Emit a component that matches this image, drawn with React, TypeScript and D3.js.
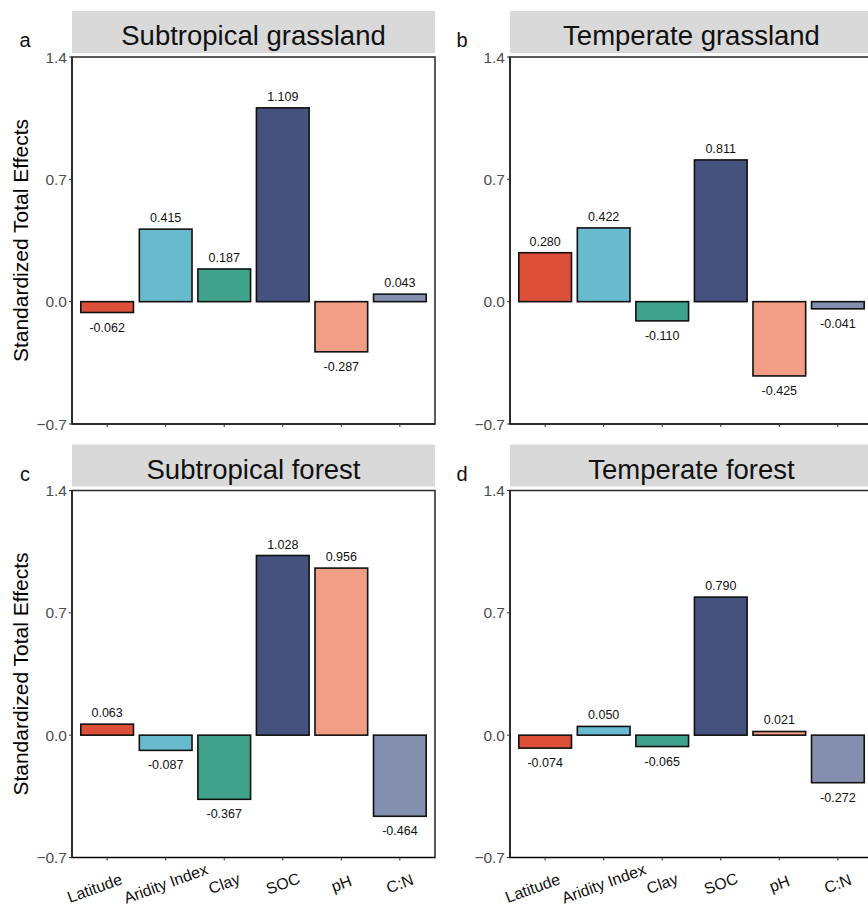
import React from "react";
import * as d3 from "d3";

const categories = ["Latitude", "Aridity Index", "Clay", "SOC", "pH", "C:N"];
// display labels (Latitude carries trailing spaces as in the original)
const categoryLabels = ["Latitude\u00A0\u00A0\u00A0\u00A0\u00A0\u00A0", "Aridity Index", "Clay", "SOC", "pH", "C:N"];
const panelTitles = ["Subtropical grassland", "Temperate grassland", "Subtropical forest", "Temperate forest"];
const panelLetters = ["a", "b", "c", "d"];
const subtropicalGrassland = [-0.062, 0.415, 0.187, 1.109, -0.287, 0.043];
const temperateGrassland = [0.28, 0.422, -0.11, 0.811, -0.425, -0.041];
const subtropicalForest = [0.063, -0.087, -0.367, 1.028, 0.956, -0.464];
const temperateForest = [-0.074, 0.05, -0.065, 0.79, 0.021, -0.272];
const barColors = ["#DC5039", "#67BBCD", "#3EA38A", "#46527E", "#F29D85", "#848EAE"];
const yTicks = [-0.7, 0, 0.7, 1.4];
const yTitle = "Standardized Total Effects";

const panelValues = [subtropicalGrassland, temperateGrassland, subtropicalForest, temperateForest];

const FONT = "'Liberation Sans', Arial, Helvetica, sans-serif";

export default function App() {
  const W = 868, H = 906;
  const panelW = 363;
  const lefts = [72, 510];
  const tops = [57, 490.5];
  const panelH = 367;
  const tickFmt = d3.format(".1f");

  return (
    <svg width={W} height={H} style={{ position: "absolute", left: 0, top: 0, background: "#fff" }} fontFamily={FONT}>
      {panelValues.map((vals, pi) => {
        const col = pi % 2;
        const row = Math.floor(pi / 2);
        const x0 = lefts[col];
        const y0 = tops[row];
        const x = d3.scaleBand<string>().domain(categories).range([x0, x0 + panelW]).paddingInner(0.1).paddingOuter(0.15);
        const y = d3.scaleLinear().domain([-0.7, 1.4]).range([y0 + panelH, y0]);
        const bw = x.bandwidth();
        return (
          <g key={pi}>
            {/* strip */}
            <rect x={x0} y={y0 - 46} width={panelW} height={42} fill="#D9D9D9" />
            <text x={x0 + panelW / 2} y={y0 - 12} textAnchor="middle" fontSize={27.5} fill="#111">{panelTitles[pi]}</text>
            {/* letter */}
            <text x={col === 0 ? 25 : 462} y={y0 - 10} textAnchor="middle" fontSize={20} fill="#111">{panelLetters[pi]}</text>
            {/* bars */}
            {vals.map((v, i) => {
              const c = categories[i];
              const top = y(Math.max(0, v));
              const bot = y(Math.min(0, v));
              const cx = (x(c) as number) + bw / 2;
              return (
                <g key={c}>
                  <rect x={x(c)} y={top} width={bw} height={bot - top} fill={barColors[i]} stroke="#111" strokeWidth={1.6} />
                  <text x={cx} y={v >= 0 ? top - 7 : bot + 19} textAnchor="middle" fontSize={12.5} fill="#111">{v.toFixed(3)}</text>
                </g>
              );
            })}
            {/* border */}
            <rect x={x0} y={y0} width={panelW} height={panelH} fill="none" stroke="#333" strokeWidth={1.6} />
            <line x1={x0} x2={x0} y1={y0} y2={y0 + panelH} stroke="#000" strokeWidth={1} />
            <line x1={x0} x2={x0 + panelW} y1={y0 + panelH} y2={y0 + panelH} stroke="#000" strokeWidth={1} />
            {/* y ticks */}
            {yTicks.map((t) => (
              <g key={t}>
                <line x1={x0 - 3} x2={x0} y1={y(t)} y2={y(t)} stroke="#333" strokeWidth={1} />
                <text x={x0 - 5} y={y(t)} dy="0.36em" textAnchor="end" fontSize={15.5} fill="#4D4D4D">{tickFmt(t)}</text>
              </g>
            ))}
            {/* x ticks */}
            {categories.map((c, i) => {
              const cx = (x(c) as number) + bw / 2;
              return (
                <g key={c}>
                  <line x1={cx} x2={cx} y1={y0 + panelH} y2={y0 + panelH + 3} stroke="#333" strokeWidth={1} />
                  {row === 1 && (
                    <text transform={`translate(${cx},${y0 + panelH + 26}) rotate(-20)`} textAnchor="middle" dy="0.35em" fontSize={16} fill="#111" style={{ whiteSpace: "pre" }}>{categoryLabels[i]}</text>
                  )}
                </g>
              );
            })}
            {col === 0 && (
              <text transform={`translate(28,${y0 + panelH / 2}) rotate(-90)`} textAnchor="middle" fontSize={21} fill="#000">{yTitle}</text>
            )}
          </g>
        );
      })}
    </svg>
  );
}
